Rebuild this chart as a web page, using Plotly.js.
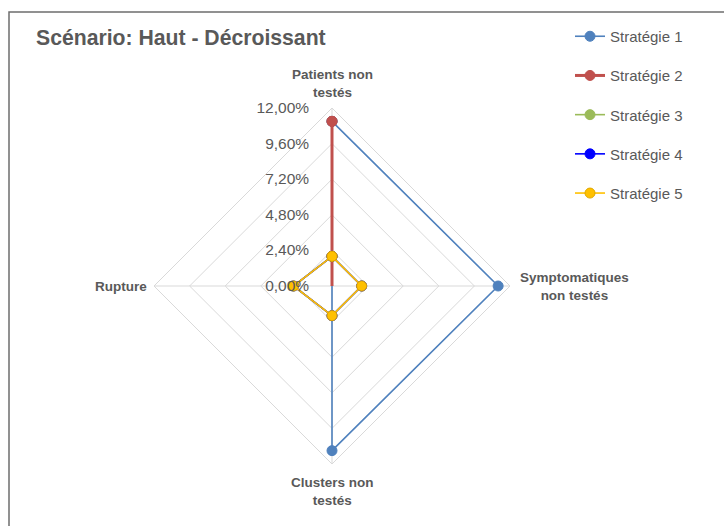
<!DOCTYPE html>
<html>
<head>
<meta charset="utf-8">
<script src="https://cdn.plot.ly/plotly-3.0.1.min.js"></script>
<style>html,body{margin:0;padding:0;background:#fff;}#chart{width:724px;height:526px;}</style>
</head>
<body>
<div id="chart"></div>
<script>
const categories = ["Patients non<br>testés", "Symptomatiques<br>non testés", "Clusters non<br>testés", "Rupture"];
const seriesNames = ["Stratégie 1", "Stratégie 2", "Stratégie 3", "Stratégie 4", "Stratégie 5"];
const strategie1 = [11.1, 11.2, 11.1, 0];
const strategie2 = [11.1, 0, 0, 0];
const strategie3 = [2.0, 2.0, 2.0, 2.6];
const strategie4 = [2.0, 2.0, 2.0, 2.6];
const strategie5 = [2.0, 2.0, 2.0, 2.6];
const radialTickVals = [0, 2.4, 4.8, 7.2, 9.6, 12];
const radialTickText = ["0,00%", "2,40%", "4,80%", "7,20%", "9,60%", "12,00%"];

const seriesValues = [strategie1, strategie2, strategie3, strategie4, strategie5];
const colors = ["#4F81BD", "#C0504D", "#9BBB59", "#0000FF", "#FFC000"];
const widths = [1.6, 3, 1.6, 1.6, 1.6];
const markerLine = ["#4F81BD", "#C0504D", "#9BBB59", "#0000FF", "#E0A800"];

const W = 724, H = 526;
const cx = 332, cy = 286, R = 178;

const traces = seriesValues.map((vals, i) => ({
  type: "scatterpolar",
  mode: "lines+markers",
  name: seriesNames[i],
  r: vals.concat([vals[0]]),
  theta: categories.concat([categories[0]]),
  line: {color: colors[i], width: widths[i]},
  marker: {color: colors[i], size: 10, line: {color: markerLine[i], width: 1}},
  legendgroup: "g" + i,
  cliponaxis: false
}));

// Category labels as annotations placed just outside each spoke end
const labelOffsets = [
  {x: cx, y: cy - R - 6, xanchor: "center", yanchor: "bottom"},
  {x: cx + R + 8, y: cy, xanchor: "left", yanchor: "middle"},
  {x: cx, y: cy + R + 9, xanchor: "center", yanchor: "top"},
  {x: cx - R - 5, y: cy, xanchor: "right", yanchor: "middle"}
];
const annotations = categories.map((c, i) => ({
  text: "<b>" + c + "</b>",
  xref: "paper", yref: "paper",
  x: labelOffsets[i].x / W, y: 1 - labelOffsets[i].y / H,
  xanchor: labelOffsets[i].xanchor, yanchor: labelOffsets[i].yanchor,
  align: "center", showarrow: false,
  font: {size: 13.5, color: "#595959", family: "Liberation Sans, Arial, sans-serif"}
}));

const layout = {
  width: W, height: H,
  margin: {l: 0, r: 0, t: 0, b: 0},
  paper_bgcolor: "#ffffff",
  font: {family: "Liberation Sans, Arial, sans-serif", color: "#595959"},
  title: {
    text: "<b>Scénario: Haut - Décroissant</b>",
    font: {size: 21.2, color: "#595959", family: "Liberation Sans, Arial, sans-serif"},
    x: 36 / W, xanchor: "left", xref: "paper",
    y: 1 - 38 / H, yanchor: "middle", yref: "paper"
  },
  showlegend: true,
  legend: {
    x: 570 / W, xanchor: "left",
    y: 1 - 20 / H, yanchor: "top",
    font: {size: 15, color: "#595959"},
    tracegroupgap: 16.7,
    bgcolor: "rgba(0,0,0,0)"
  },
  annotations: annotations,
  polar: {
    domain: {x: [(cx - R) / W, (cx + R) / W], y: [(H - cy - R) / H, (H - cy + R) / H]},
    gridshape: "linear",
    bgcolor: "rgba(0,0,0,0)",
    radialaxis: {
      range: [0, 12],
      tickvals: radialTickVals,
      ticktext: radialTickText,
      angle: 90,
      tickangle: 90,
      side: "counterclockwise",
      showline: false,
      ticks: "outside",
      ticklen: 17,
      tickcolor: "rgba(0,0,0,0)",
      gridcolor: "#d9d9d9",
      gridwidth: 1,
      tickfont: {size: 15.5, color: "#595959"}
    },
    angularaxis: {
      rotation: 90,
      direction: "clockwise",
      showline: true,
      linecolor: "#d9d9d9",
      linewidth: 1,
      gridcolor: "#d9d9d9",
      ticks: "",
      showticklabels: false,
      categoryorder: "array",
      categoryarray: categories
    }
  },
  shapes: [{
    type: "rect", xref: "paper", yref: "paper",
    x0: 9 / W, x1: 1.05, y0: -0.05, y1: 1 - 12 / H,
    line: {color: "#6e6e6e", width: 1.5}, fillcolor: "rgba(0,0,0,0)", layer: "below"
  }]
};

Plotly.newPlot("chart", traces, layout, {displayModeBar: false, staticPlot: true});
</script>
</body>
</html>
